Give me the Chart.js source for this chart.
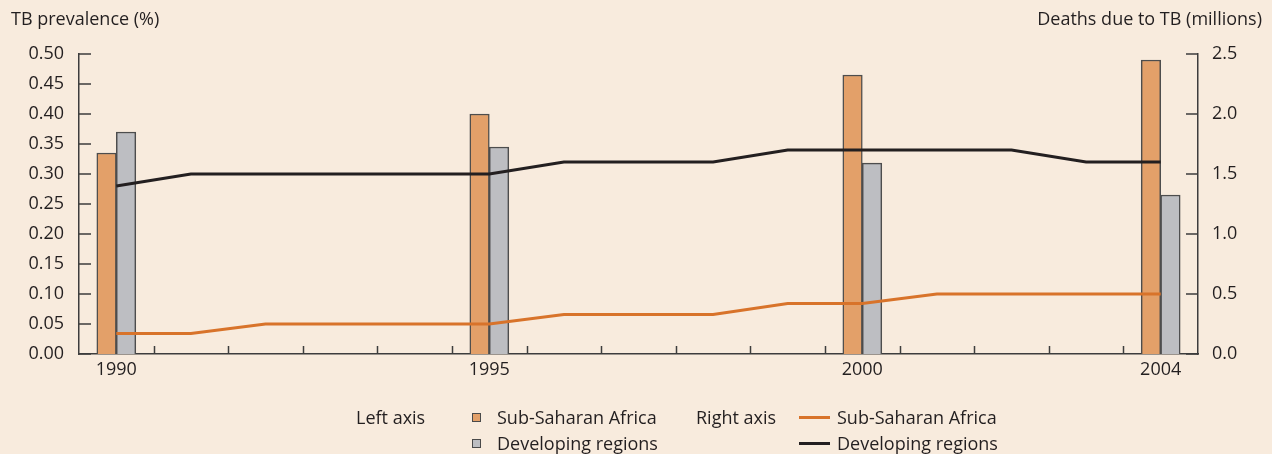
<!DOCTYPE html>
<html>
<head>
<meta charset="utf-8">
<script src="https://cdn.jsdelivr.net/npm/chart.js@4/dist/chart.umd.min.js"></script>
<style>
  html, body { margin: 0; padding: 0; background: #F8EBDD; }
  #wrap { position: relative; width: 1272px; height: 454px; background: #F8EBDD; overflow: hidden;
          font-family: "Open Sans", sans-serif; color: #231F20; font-size: 18px; }
  #wrap canvas { position: absolute; left: 0; top: 0; }
  .t { position: absolute; line-height: 24px; height: 24px; white-space: nowrap; }
  .sq { position: absolute; width: 7px; height: 7px; border: 1px solid #4a4a4a; }
  .ln { position: absolute; width: 31px; height: 3px; }
</style>
</head>
<body>
<div id="wrap">
  <canvas id="c" width="1272" height="454"></canvas>
  <div class="t" style="left:11px; top:6px;">TB prevalence (%)</div>
  <div class="t" style="right:10px; top:6px;">Deaths due to TB (millions)</div>

  <div class="t" style="left:356px; top:405px;">Left axis</div>
  <div class="sq" style="left:472px; top:413px; background:#E3A069;"></div>
  <div class="t" style="left:497px; top:405px;">Sub-Saharan Africa</div>
  <div class="sq" style="left:472px; top:439px; background:#BDBEC2;"></div>
  <div class="t" style="left:497px; top:431px;">Developing regions</div>

  <div class="t" style="left:696px; top:405px;">Right axis</div>
  <div class="ln" style="left:799px; top:416px; background:#D8732A;"></div>
  <div class="t" style="left:837px; top:405px;">Sub-Saharan Africa</div>
  <div class="ln" style="left:799px; top:442px; background:#231F20;"></div>
  <div class="t" style="left:837px; top:431px;">Developing regions</div>
</div>
<script>
// ---- data ----
const barYears = [1990, 1995, 2000, 2004];
const prevalenceSSA = [0.335, 0.40, 0.465, 0.49];
const prevalenceDev = [0.37, 0.345, 0.318, 0.265];

const lineYears = [1990, 1991, 1992, 1993, 1994, 1995, 1996, 1997, 1998, 1999, 2000, 2001, 2002, 2003, 2004];
const deathsSSA = [0.17, 0.17, 0.25, 0.25, 0.25, 0.25, 0.33, 0.33, 0.33, 0.42, 0.42, 0.5, 0.5, 0.5, 0.5];
const deathsDev = [1.4, 1.5, 1.5, 1.5, 1.5, 1.5, 1.6, 1.6, 1.6, 1.7, 1.7, 1.7, 1.7, 1.6, 1.6];

const xLabelYears = [1990, 1995, 2000, 2004];
const xMinorTicks = [1990.5, 1991.5, 1992.5, 1993.5, 1994.5, 1995.5, 1996.5, 1997.5, 1998.5, 1999.5, 2000.5, 2001.5, 2002.5, 2003.5];
const leftTicks = [0, 0.05, 0.10, 0.15, 0.20, 0.25, 0.30, 0.35, 0.40, 0.45, 0.50];
const rightTicks = [0, 0.5, 1.0, 1.5, 2.0, 2.5];

const ink = '#231F20';
const axisCol = '#3d3d3d';
const font = { family: '"Open Sans", sans-serif', size: 18 };

const pts = (xs, ys) => xs.map((x, i) => ({ x: x, y: ys[i] }));

const innerTicks = {
  id: 'innerTicks',
  afterDatasetsDraw(chart) {
    const ctx = chart.ctx;
    const x = chart.scales.x, yl = chart.scales.y, yr = chart.scales.y1;
    const a = chart.chartArea;
    ctx.save();
    ctx.strokeStyle = axisCol;
    ctx.lineWidth = 1.5;
    ctx.beginPath();
    xMinorTicks.forEach(v => {
      const px = Math.round(x.getPixelForValue(v)) + 0.5;
      ctx.moveTo(px, a.bottom);
      ctx.lineTo(px, a.bottom - 8);
    });
    leftTicks.forEach(v => {
      const py = Math.round(yl.getPixelForValue(v));
      ctx.moveTo(a.left, py);
      ctx.lineTo(a.left + 12, py);
    });
    rightTicks.forEach(v => {
      const py = Math.round(yr.getPixelForValue(v));
      ctx.moveTo(a.right, py);
      ctx.lineTo(a.right - 12, py);
    });
    ctx.stroke();
    ctx.restore();
  }
};

new Chart(document.getElementById('c'), {
  type: 'bar',
  data: {
    datasets: [
      {
        type: 'line', label: 'Deaths SSA', data: pts(lineYears, deathsSSA), yAxisID: 'y1',
        borderColor: '#D8732A', borderWidth: 3, pointRadius: 0, tension: 0, order: 0
      },
      {
        type: 'line', label: 'Deaths Dev', data: pts(lineYears, deathsDev), yAxisID: 'y1',
        borderColor: ink, borderWidth: 3, pointRadius: 0, tension: 0, order: 0
      },
      {
        label: 'Prevalence SSA', data: pts(barYears, prevalenceSSA), yAxisID: 'y',
        backgroundColor: '#E3A069', borderColor: '#4d4d4d', borderWidth: 1.5,
        barThickness: 19.5, order: 1
      },
      {
        label: 'Prevalence Dev', data: pts(barYears, prevalenceDev), yAxisID: 'y',
        backgroundColor: '#BDBEC2', borderColor: '#4d4d4d', borderWidth: 1.5,
        barThickness: 19.5, order: 1
      }
    ]
  },
  options: {
    responsive: false,
    animation: false,
    layout: { padding: { top: 54, left: 0, right: 0, bottom: 70 } },
    plugins: { legend: { display: false }, tooltip: { enabled: false } },
    scales: {
      x: {
        type: 'linear', min: 1989.5, max: 2004.5, offset: false,
        grid: { display: false, drawTicks: false },
        border: { display: true, color: axisCol, width: 1.5 },
        afterBuildTicks: s => { s.ticks = xLabelYears.map(v => ({ value: v })); },
        afterFit: s => { s.height = 30; },
        ticks: { color: ink, font: font, padding: 5, maxRotation: 0, autoSkip: false,
                 callback: v => String(v) }
      },
      y: {
        position: 'left', min: 0, max: 0.5,
        grid: { display: false, drawTicks: false },
        border: { display: true, color: axisCol, width: 1.5 },
        afterBuildTicks: s => { s.ticks = leftTicks.map(v => ({ value: v })); },
        afterFit: s => { s.width = 79; },
        ticks: { color: ink, font: font, padding: 15, callback: v => Number(v).toFixed(2) }
      },
      y1: {
        position: 'right', min: 0, max: 2.5,
        grid: { display: false, drawTicks: false },
        border: { display: true, color: axisCol, width: 1.5 },
        afterBuildTicks: s => { s.ticks = rightTicks.map(v => ({ value: v })); },
        afterFit: s => { s.width = 74; },
        ticks: { color: ink, font: font, padding: 14, callback: v => Number(v).toFixed(1) }
      }
    }
  },
  plugins: [innerTicks]
});
</script>
</body>
</html>
